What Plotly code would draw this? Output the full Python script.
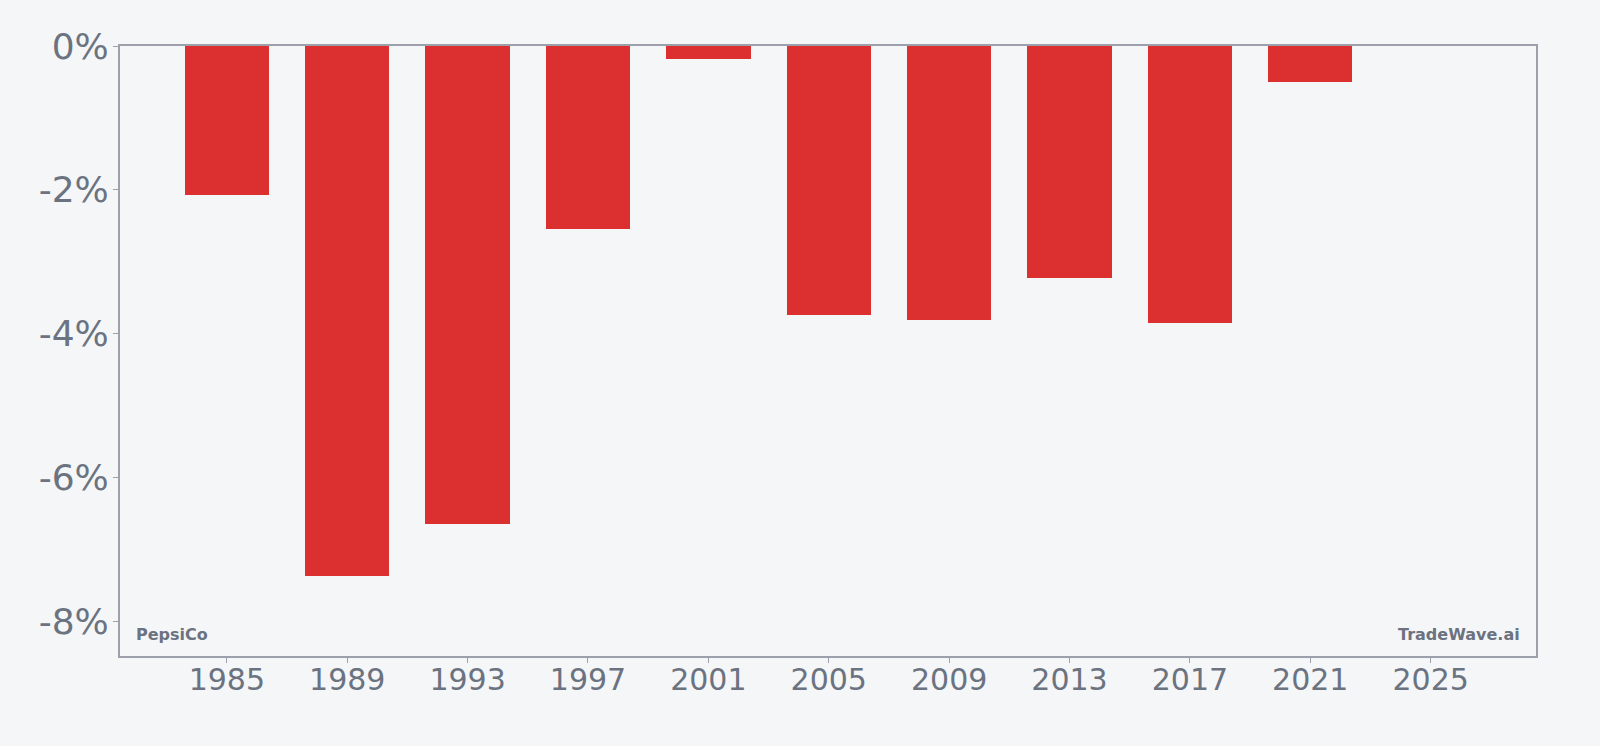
import plotly.graph_objects as go

years = [1985, 1989, 1993, 1997, 2001, 2005, 2009, 2013, 2017, 2021]
values = [-2.07, -7.38, -6.65, -2.55, -0.18, -3.74, -3.81, -3.23, -3.855, -0.495]
x_ticks = [1985, 1989, 1993, 1997, 2001, 2005, 2009, 2013, 2017, 2021, 2025]
y_ticks = [0, -2, -4, -6, -8]
y_tick_labels = ["0%", "-2%", "-4%", "-6%", "-8%"]

bg = "#f4f6f8"
text_col = "#6b7280"
axis_col = "#9ca0ab"

fig = go.Figure()
fig.add_trace(go.Bar(
    x=years, y=values, width=2.8,
    marker=dict(color="#dc3030", line=dict(width=0)),
    hoverinfo="x+y",
))

fig.update_layout(
    width=1600, height=746,
    paper_bgcolor=bg, plot_bgcolor=bg,
    margin=dict(l=120, r=64, t=46, b=90),
    showlegend=False,
    font=dict(family="DejaVu Sans", color=text_col),
    bargap=0,
)
fig.update_xaxes(
    range=[1981.45, 2028.5],
    tickmode="array", tickvals=x_ticks,
    tickfont=dict(size=30, color=text_col),
    showgrid=False, zeroline=False,
    showline=True, linecolor=axis_col, linewidth=2, mirror=True,
    ticks="outside", ticklen=5, tickcolor=axis_col, tickwidth=1,
    ticklabelstandoff=-9,
)
fig.update_yaxes(
    range=[-8.487, 0],
    tickmode="array", tickvals=y_ticks, ticktext=y_tick_labels,
    tickfont=dict(size=36, color=text_col),
    showgrid=False, zeroline=False,
    showline=True, linecolor=axis_col, linewidth=2, mirror=True,
    ticks="outside", ticklen=5, tickcolor=axis_col, tickwidth=1,
    ticklabelstandoff=-3,
)
fig.add_annotation(
    text="<b>PepsiCo</b>", xref="paper", yref="paper", x=0.01, y=0.016,
    xanchor="left", yanchor="bottom", showarrow=False,
    font=dict(size=16, color=text_col, family="DejaVu Sans"),
)
fig.add_annotation(
    text="<b>TradeWave.ai</b>", xref="paper", yref="paper", x=0.99, y=0.016,
    xanchor="right", yanchor="bottom", showarrow=False,
    font=dict(size=16, color=text_col, family="DejaVu Sans"),
)

fig.write_html("out.html")
